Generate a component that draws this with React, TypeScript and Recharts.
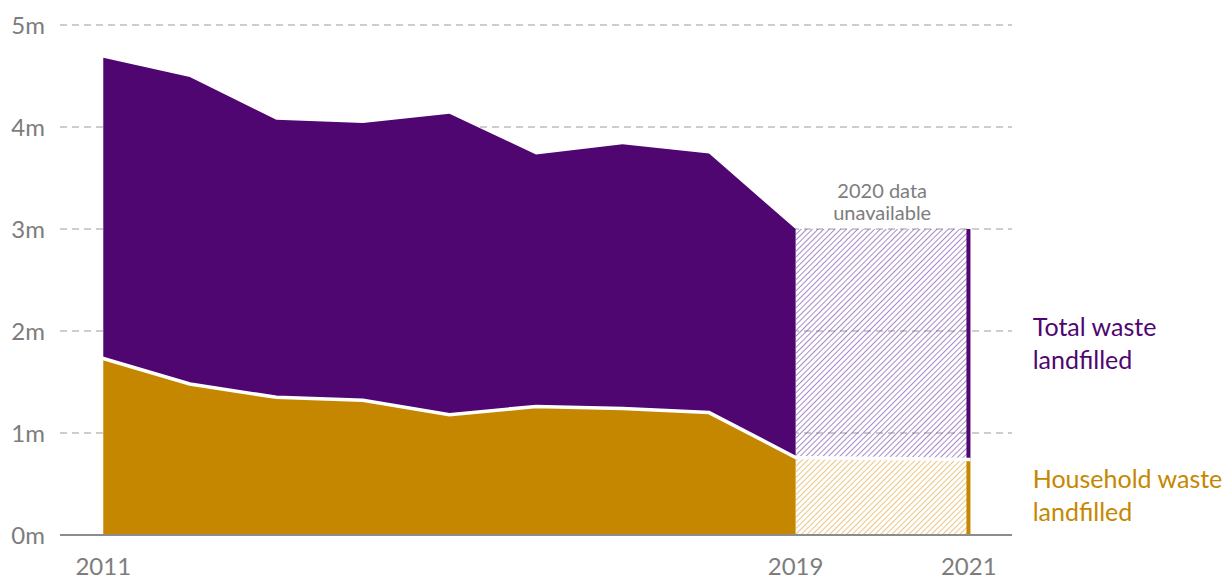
import {
  ComposedChart, Area, Bar, Line, XAxis, YAxis, CartesianGrid, ReferenceDot,
} from "recharts";

// landfill figures, millions of tonnes — 2020 was not published
const years = [2011, 2012, 2013, 2014, 2015, 2016, 2017, 2018, 2019, 2020, 2021];
const totalWaste = [4.68, 4.49, 4.07, 4.04, 4.13, 3.73, 3.83, 3.74, 3.0, null, 3.0];
const householdWaste = [1.73, 1.48, 1.35, 1.32, 1.18, 1.26, 1.24, 1.2, 0.76, null, 0.74];

const yTicks = [0, 1, 2, 3, 4, 5];
const xTicks = [2011, 2019, 2021];
const gapStart = 2019;
const gapEnd = 2021;
const missingYear = 2020;

const PURPLE = "#4f0671";
const ORANGE = "#c68700";
const GREY = "#7d7d7d";
const FONT = "Lato, 'Open Sans', sans-serif";

const rows = years.map((year, i) => {
  const total = totalWaste[i];
  const hh = householdWaste[i];
  const has = total != null && hh != null;
  return {
    year,
    solidHH: has && year <= gapStart ? [0, hh] : null,
    solidRest: has && year <= gapStart ? [hh, total] : null,
    hatchHH: has && year >= gapStart ? [0, hh] : null,
    hatchRest: has && year >= gapStart ? [hh, total] : null,
    barHH: has && year === gapEnd ? hh : null,
    barRest: has && year === gapEnd ? (total as number) - (hh as number) : null,
    divider: hh,
  };
});

// series labels sit beside the middle of the latest bars
const lastIdx = years.indexOf(gapEnd);
const lastTotal = totalWaste[lastIdx] as number;
const lastHH = householdWaste[lastIdx] as number;
const totalMid = (lastTotal + lastHH) / 2;
const hhMid = lastHH / 2;

function sideLabel(lines: string[], color: string, firstDy: number) {
  // eslint-disable-next-line @typescript-eslint/no-explicit-any
  return ({ viewBox }: any) => {
    const x = viewBox.x + viewBox.width / 2 + 64;
    const mid = viewBox.y + viewBox.height / 2;
    return (
      <text x={x} y={mid} fill={color} fontSize={25} fontFamily={FONT}>
        <tspan x={x} dy={firstDy}>{lines[0]}</tspan>
        <tspan x={x} dy={33}>{lines[1]}</tspan>
      </text>
    );
  };
}

// eslint-disable-next-line @typescript-eslint/no-explicit-any
function GapNote({ viewBox }: any) {
  const cx = viewBox.x + viewBox.width / 2;
  const top = viewBox.y + viewBox.height / 2;
  return (
    <text x={cx} y={top} textAnchor="middle" fill={GREY} fontSize={20} fontFamily={FONT}>
      <tspan x={cx} dy={-31}>2020 data</tspan>
      <tspan x={cx} dy={22}>unavailable</tspan>
    </text>
  );
}

export default function App() {
  return (
    <div style={{ width: 1224, height: 579 }}>
      <style>{`body{margin:0}`}</style>
      <ComposedChart
        width={1224}
        height={579}
        data={rows}
        margin={{ top: 25, right: 212, bottom: 0, left: 0 }}
      >
        <defs>
          <pattern id="hatchPurple" width="4" height="4" patternUnits="userSpaceOnUse" patternTransform="rotate(45)">
            <line x1="0" y1="0" x2="0" y2="4" stroke="#8257b0" strokeWidth="1.4" />
          </pattern>
          <pattern id="hatchOrange" width="4" height="4" patternUnits="userSpaceOnUse" patternTransform="rotate(45)">
            <line x1="0" y1="0" x2="0" y2="4" stroke="#e2ae48" strokeWidth="1.4" />
          </pattern>
        </defs>
        <CartesianGrid vertical={false} stroke="#bdbdbd" strokeWidth={1.5} strokeDasharray="7 5" />
        <XAxis
          dataKey="year"
          type="number"
          domain={[2010.5, 2021.5]}
          ticks={xTicks}
          allowDataOverflow
          height={44}
          tickSize={0}
          tickMargin={23}
          axisLine={{ stroke: "#8c8c8c", strokeWidth: 2 }}
          tickLine={false}
          tick={{ fill: GREY, fontSize: 24, fontFamily: FONT }}
        />
        <YAxis
          type="number"
          domain={[0, 5]}
          ticks={yTicks}
          width={60}
          tickSize={0}
          tickMargin={15}
          axisLine={false}
          tickLine={false}
          tickFormatter={(v: number) => `${v}m`}
          tick={{ fill: GREY, fontSize: 24, fontFamily: FONT }}
        />

        {/* recorded years */}
        <Area dataKey="solidRest" type="linear" fill={PURPLE} fillOpacity={1} stroke="none" isAnimationActive={false} />
        <Area dataKey="solidHH" type="linear" fill={ORANGE} fillOpacity={1} stroke="none" isAnimationActive={false} />

        {/* 2020 gap, hatched */}
        <Area dataKey="hatchRest" type="linear" connectNulls fill="url(#hatchPurple)" fillOpacity={1} stroke="none" isAnimationActive={false} />
        <Area dataKey="hatchHH" type="linear" connectNulls fill="url(#hatchOrange)" fillOpacity={1} stroke="none" isAnimationActive={false} />

        {/* latest year as thin bars */}
        <Bar dataKey="barHH" stackId="latest" barSize={4} fill={ORANGE} isAnimationActive={false} />
        <Bar dataKey="barRest" stackId="latest" barSize={4} fill={PURPLE} isAnimationActive={false} />

        {/* white divider between the two series */}
        <Line dataKey="divider" type="linear" connectNulls stroke="#ffffff" strokeWidth={3.5} strokeLinecap="square" dot={false} activeDot={false} isAnimationActive={false} />

        <ReferenceDot x={missingYear} y={3} r={0} fill="none" stroke="none" label={<GapNote />} />
        <ReferenceDot x={gapEnd} y={totalMid} r={0} fill="none" stroke="none"
          label={sideLabel(["Total waste", "landfilled"], PURPLE, -8)} />
        <ReferenceDot x={gapEnd} y={hhMid} r={0} fill="none" stroke="none"
          label={sideLabel(["Household waste", "landfilled"], ORANGE, -9)} />
      </ComposedChart>
    </div>
  );
}
